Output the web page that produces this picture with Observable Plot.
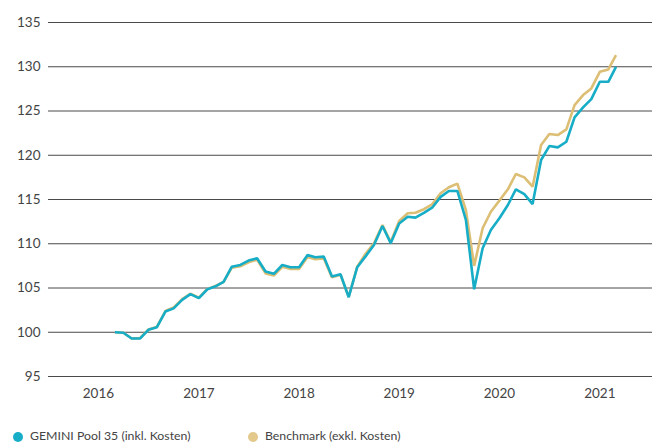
<!DOCTYPE html>
<html>
<head>
<meta charset="utf-8">
<script src="https://cdn.jsdelivr.net/npm/d3@7"></script>
<script src="https://cdn.jsdelivr.net/npm/@observablehq/plot@0.6"></script>
<style>
  html, body { margin: 0; padding: 0; background: #fff; }
  #wrap { position: relative; width: 655px; height: 445px; overflow: hidden; font-family: "Lato", "Open Sans", sans-serif; }
  .leg { position: absolute; top: 428px; height: 14px; line-height: 14px; font-size: 12.3px; color: #444; white-space: nowrap; }
  .dot { position: absolute; top: 4px; width: 10px; height: 10px; border-radius: 50%; }
  .leg span.t { position: absolute; left: 17px; top: 1px; }
</style>
</head>
<body>
<div id="wrap"></div>
<script>
// Monthly index values, March 2016 – March 2021
const startMonth = "2016-03-01";
const endMonth = "2021-04-01";
const seriesNames = ["GEMINI Pool 35 (inkl. Kosten)", "Benchmark (exkl. Kosten)"];
const seriesColors = ["#17adc6", "#dcbe74"];
const legendDotColors = ["#17adc6", "#e3c98b"];
const gemini = [100.0, 99.95, 99.3, 99.3, 100.27, 100.57, 102.34, 102.7, 103.66, 104.3, 103.85, 104.86, 105.16, 105.69,
  107.41, 107.61, 108.1, 108.36, 106.86, 106.6, 107.6, 107.35, 107.35, 108.74, 108.47, 108.55, 106.29, 106.55,
  103.96, 107.35, 108.6, 109.86, 112.0, 110.05, 112.3, 113.06, 112.95, 113.5, 114.07, 115.3, 115.96, 115.96,
  112.7, 104.86, 109.5, 111.56, 112.88, 114.38, 116.15, 115.6, 114.48, 119.46, 121.04, 120.89, 121.53, 124.28,
  125.41, 126.34, 128.3, 128.3, 129.99];
const benchmark = [100.0, 99.95, 99.3, 99.35, 100.3, 100.6, 102.4, 102.8, 103.75, 104.35, 103.9, 104.9, 105.2, 105.7,
  107.3, 107.45, 107.9, 108.2, 106.65, 106.4, 107.4, 107.15, 107.15, 108.5, 108.25, 108.35, 106.2, 106.5,
  104.0, 107.4, 108.9, 110.05, 112.1, 110.2, 112.57, 113.44, 113.5, 113.9, 114.46, 115.7, 116.38, 116.8,
  113.8, 107.5, 111.75, 113.62, 114.87, 116.15, 117.88, 117.5, 116.45, 121.15, 122.4, 122.28, 122.92, 125.67,
  126.8, 127.55, 129.43, 129.7, 131.3];
const yTicks = [95, 100, 105, 110, 115, 120, 125, 130, 135];
const xTickYears = [2016, 2017, 2018, 2019, 2020, 2021];

const months = d3.utcMonths(new Date(startMonth), new Date(endMonth));
const rows = [];
months.forEach((d, i) => {
  rows.push({date: d, value: benchmark[i], series: seriesNames[1]});
});
months.forEach((d, i) => {
  rows.push({date: d, value: gemini[i], series: seriesNames[0]});
});

const chart = Plot.plot({
  width: 655,
  height: 410,
  marginTop: 22,
  marginBottom: 34,
  marginLeft: 48,
  marginRight: 3,
  style: {fontFamily: "Lato, 'Open Sans', sans-serif", fontSize: "13.5px", color: "#444", background: "#fff"},
  x: {
    type: "utc",
    domain: [new Date(Date.UTC(2015, 6, 3)), new Date(Date.UTC(2021, 6, 12))],
    ticks: xTickYears.map(y => new Date(Date.UTC(y, 0, 1))),
    tickFormat: d => String(d.getUTCFullYear()),
    tickSize: 0,
    tickPadding: 12,
    label: null
  },
  y: {
    domain: [95, 135],
    ticks: yTicks,
    tickSize: 0,
    tickPadding: 8,
    label: null
  },
  color: {domain: seriesNames, range: seriesColors},
  marks: [
    Plot.ruleY(yTicks, {stroke: "#4a4a4a", strokeWidth: 1}),
    Plot.line(rows, {x: "date", y: "value", z: "series", stroke: "series", strokeWidth: 2.6, strokeLinejoin: "miter", strokeLinecap: "butt"})
  ]
});
const wrap = document.getElementById("wrap");
wrap.appendChild(chart);

const legendX = [13, 248];
seriesNames.forEach((name, i) => {
  const item = document.createElement("div");
  item.className = "leg";
  item.style.left = legendX[i] + "px";
  const dot = document.createElement("div");
  dot.className = "dot";
  dot.style.background = legendDotColors[i];
  const t = document.createElement("span");
  t.className = "t";
  t.textContent = name;
  item.appendChild(dot);
  item.appendChild(t);
  wrap.appendChild(item);
});
</script>
</body>
</html>
